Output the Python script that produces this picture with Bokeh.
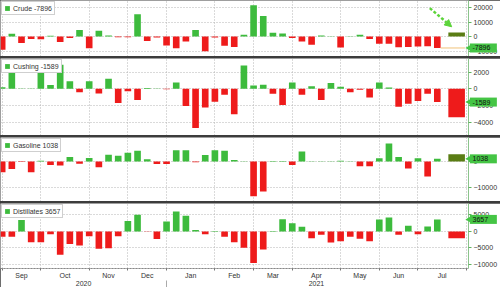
import math
import pandas as pd
from bokeh.plotting import figure
from bokeh.models import (Range1d, FixedTicker, Legend, LegendItem, Arrow,
                          NormalHead, ColumnDataSource, LinearAxis)
from bokeh.core.properties import value
from bokeh.layouts import column
from bokeh.embed import file_html
from bokeh.resources import INLINE

# ---------------- data ----------------
weeks = pd.date_range("2020-09-04", periods=46, freq="7D")

crude = [-9100, 2000, -4500, -1600, -1800, 500, -3800, -1000, 4500, -8000,
         4000, 800, -500, -500, 15400, -3000, -700, -6100, -8000, -3400,
         4500, -10200, -700, -6300, -7300, 1300, 21700, 14300, 2700, 2200,
         -900, -3400, -5700, 800, 200, -7500, 300, 1300, -1600, -5000,
         -4900, -7400, -7300, -6800, -6700, -7896]
cushing = [200, 3400, 50, 50, 3000, 450, 2900, 900, -400, 900,
           -550, 1200, -1700, -300, -1350, 100, 50, -50, 750, -2050,
           -4700, -2250, -1550, -700, -3050, 2800, 400, 480, -600, -1950,
           750, -700, 300, -1350, 700, 250, -400, -100, -1050, 750,
           150, -2150, -1800, -1450, -600, -1589]
gasoline = [-4200, -2900, -200, -4200, 300, -1400, -1600, 1800, -900, 1400,
            -2200, 2600, 2200, 3400, 4200, 900, -1000, -1000, 4400, 4400,
            -300, 2500, 4400, 4200, 600, 100, -13500, -11700, 200, 200,
            -1400, 3900, 100, 100, 100, 300, 100, -1800, -1800, 1300,
            7000, 1800, -2700, 1300, -5800, 1038]
distillates = [-1600, -1600, 3500, -3300, -3300, -900, -7100, -3800, -4300, -1500,
               -5300, -5100, -1500, 3200, 5100, -100, -2300, 3000, 6100, 4800,
               400, -900, 100, -1600, -3300, -5000, -9600, -5500, 100, 3700,
               2500, 1400, -2100, -1000, -3400, -3000, -1600, -2200, -3000, 3600,
               4200, -1000, 1700, -900, 1500, 3657]

forecast_date = "2021-07-30"
forecast = {"Crude": 2900, "Cushing": -3400, "Gasoline": 2800, "Distillates": -2100}

grid_dates = ["2020-09-04", "2020-10-02", "2020-11-06", "2020-12-04", "2021-01-01",
              "2021-02-05", "2021-03-05", "2021-04-02", "2021-05-07", "2021-06-04",
              "2021-07-02", "2021-08-06"]
month_labels = ["Sep", "Oct", "Nov", "Dec", "Jan", "Feb", "Mar", "Apr", "May", "Jun", "Jul"]
year_labels = ["2020", "2021"]
year_break = "2021-01-01"

x_start = "2020-09-02 19:00"
x_end = "2021-08-07 14:00"

# ---------------- styling ----------------
GREEN = "#3DBB3D"
RED = "#EE1B1B"
OLIVE = "#5A7D14"
ARROW = "#5CD43A"
VALBG = "#45C545"
LASTLINE = "#F0C27A"
GRID = "#b4b4b4"
FONT = "Liberation Sans"
DAY = 86400000
FRAME_W = 472


def ms(d):
    return int(pd.Timestamp(d).value // 10**6)


grid_ms = [ms(d) for d in grid_dates]
month_ms = [(grid_ms[i] + grid_ms[i + 1]) // 2 for i in range(len(month_labels))]
xs, xe, yb = ms(x_start), ms(x_end), ms(year_break)
year_ms = [(xs + yb) // 2, (yb + xe) // 2]
mpp = (xe - xs) / FRAME_W  # ms per pixel

# month labels; the year sits on a second line under the nearest month tick
tick_pos = list(month_ms)
tick_txt = list(month_labels)
for ypos, ylab in zip(year_ms, year_labels):
    j = min(range(len(tick_pos)), key=lambda i: abs(tick_pos[i] - ypos))
    if abs(tick_pos[j] - ypos) < 3 * DAY:
        tick_txt[j] = tick_txt[j] + "\n" + ylab
    else:
        tick_pos.append(ypos)
        tick_txt.append(" \n" + ylab)

xr = Range1d(start=xs, end=xe)

panels = [
    ("Crude", crude, (-13800, 25000), [-10000, 0, 10000, 20000], 56),
    ("Cushing", cushing, (-5600, 3640), [-4000, -2000, 0, 2000], 77),
    ("Gasoline", gasoline, (-15560, 9340), [-10000, 0, 10000], 64),
    ("Distillates", distillates, (-11300, 8500), [-10000, -5000, 0, 5000], 65),
]

figs = []
for k, (name, vals, (lo, hi), ticks, fh) in enumerate(panels):
    last = k == len(panels) - 1
    p = figure(width=500, frame_height=fh, x_range=xr, y_range=Range1d(lo, hi),
               x_axis_location=None, y_axis_location="right",
               output_backend="svg", toolbar_location=None,
               min_border_left=0, min_border_right=500 - FRAME_W, min_border_top=0,
               min_border_bottom=0)
    p.outline_line_color = None
    p.background_fill_color = "white"
    p.border_fill_color = "white"

    src = ColumnDataSource(dict(x=weeks, top=vals,
                                color=[GREEN if v >= 0 else RED for v in vals]))
    r = p.vbar(x="x", top="top", bottom=0, width=4.8 * DAY, fill_color="color",
               line_color=None, source=src)

    fv = forecast[name]
    p.vbar(x=[pd.Timestamp(forecast_date)], top=[fv], bottom=0, width=12 * DAY,
           fill_color=OLIVE if fv >= 0 else RED, line_color=None)

    # grids
    p.xgrid.ticker = FixedTicker(ticks=grid_ms)
    p.yaxis.ticker = FixedTicker(ticks=ticks)
    p.ygrid.ticker = FixedTicker(ticks=ticks)
    for g in (p.xgrid, p.ygrid):
        g.grid_line_color = GRID
        g.grid_line_dash = "1 2"
        g.grid_line_width = 1

    ax = p.yaxis[0]
    ax.major_label_text_font_size = "7px"
    ax.major_label_text_font = FONT
    ax.major_label_text_color = "#333333"
    ax.axis_line_color = "#8cc48c"
    ax.major_tick_line_color = "#5fb35f"
    ax.major_tick_out = 3
    ax.major_tick_in = 0
    ax.minor_tick_line_color = None
    ax.major_label_standoff = 2

    lastv = vals[-1]
    gidx = next(i for i, v in enumerate(vals) if v > 0)
    leg = Legend(items=[LegendItem(label=f"{name} {lastv}", renderers=[r], index=gidx)],
                 location="top_left", margin=1, padding=2, spacing=0,
                 label_text_font_size="7px", label_text_font=FONT,
                 label_text_color="#333333", label_height=8, label_standoff=3,
                 glyph_width=6, glyph_height=6, border_line_color="#a0a0a0",
                 background_fill_alpha=1)
    p.add_layout(leg)

    # last-value tag on the right axis
    p.rect(x=[xe + 15 * mpp], y=[lastv], width=27, height=9,
           width_units="screen", height_units="screen",
           fill_color=VALBG, line_color=None, level="overlay")
    p.scatter(x=[xe + 1.5 * mpp], y=[lastv], marker="triangle", size=8,
              angle=math.pi / 2, fill_color=VALBG, line_color=None, level="overlay")
    p.text(x=[xe], y=[lastv], text=[str(lastv)], x_offset=4,
           text_font_size="7px", text_font=value(FONT), text_color="#111111",
           text_baseline="middle", text_align="left", level="overlay")

    if name == "Crude":
        lx0 = ms(weeks[-1]) + 2.4 * DAY
        lx1 = ms(forecast_date) + 6 * DAY
        p.segment(x0=[lx0], y0=[lastv], x1=[lx1], y1=[lastv],
                  line_color=LASTLINE, line_width=1)
        p.add_layout(Arrow(end=NormalHead(size=7, fill_color=ARROW, line_color=ARROW),
                           x_start=ms("2021-07-10 14:00"), y_start=19700,
                           x_end=ms("2021-07-26 10:00"), y_end=6800,
                           line_color=ARROW, line_width=2.5, line_dash="3 2"))

    if last:
        max_ = LinearAxis(ticker=FixedTicker(ticks=tick_pos, minor_ticks=grid_ms),
                          major_label_overrides={m: l for m, l in zip(tick_pos, tick_txt)})
        max_.major_tick_line_color = None
        max_.major_tick_out = 0
        max_.major_tick_in = 0
        max_.minor_tick_out = 2
        max_.minor_tick_in = 0
        max_.minor_tick_line_color = "#777777"
        max_.axis_line_color = "#888888"
        max_.axis_line_dash = "2 1"
        max_.major_label_text_font_size = "7px"
        max_.major_label_text_font = FONT
        max_.major_label_text_color = "#333333"
        max_.major_label_text_line_height = 1.15
        max_.major_label_standoff = 1
        p.add_layout(max_, "below")

        sep = LinearAxis(ticker=FixedTicker(ticks=[], minor_ticks=[yb]))
        sep.axis_line_color = None
        sep.major_tick_line_color = None
        sep.major_tick_out = 0
        sep.major_tick_in = 0
        sep.minor_tick_in = 9
        sep.minor_tick_out = 0
        sep.minor_tick_line_color = "#aaaaaa"
        sep.major_label_standoff = 0
        p.add_layout(sep, "below")

    figs.append(p)

layout = column(*figs, spacing=2, styles={"background-color": "#3c3c3c"})

open("out.html", "w").write(file_html(layout, INLINE))
